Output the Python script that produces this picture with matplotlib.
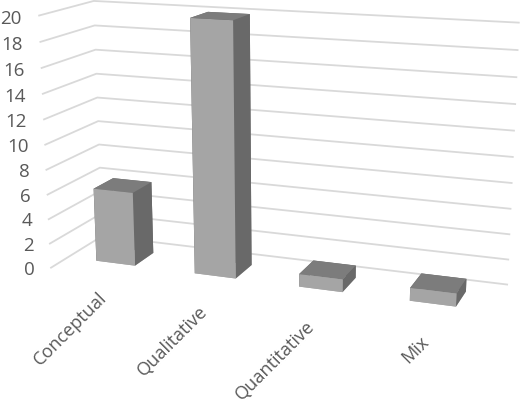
import numpy as np
import matplotlib
matplotlib.use('Agg')
import matplotlib.pyplot as plt
from mpl_toolkits.mplot3d import proj3d

categories = ['Conceptual', 'Qualitative', 'Quantitative', 'Mix']
values = [6, 20, 1, 1]
ticks = [0, 2, 4, 6, 8, 10, 12, 14, 16, 18, 20]

grey_text = '#595959'
front, top, side = '#a5a5a5', '#7c7c7c', '#696969'

fig = plt.figure(figsize=(5.2, 4), dpi=100)
ax = fig.add_axes([0.0099, -0.0497, 1.0080, 1.3105], projection='3d')
ax.set_xlim(0, 4, view_margin=0)
ax.set_ylim(0, 1, view_margin=0)
ax.set_zlim(0, 20, view_margin=0)

# camera fitted against the reference picture
ax.view_init(elev=14.29, azim=-69.41, roll=0.133)
ax.set_proj_type('persp', focal_length=0.4584)
ax.set_box_aspect((1, 0.2494, 0.5805))
ax.set_xticks([])
ax.set_yticks([])
ax.set_zticks([])
ax.set_axis_off()
ax.computed_zorder = False
ax.patch.set_alpha(0)

# Text3D ignores rotation, so project the anchors and place all labels in 2D
M = ax.get_proj()

# back wall and side wall gridlines
for v in ticks:
    ax.plot([0, 0, 4], [0, 1, 1], [v, v, v], color='#d9d9d9', lw=1.3, zorder=1)
    px, py, _ = proj3d.proj_transform(-0.175, 0, v - 0.35, M)
    ax.text2D(px, py, str(v), transform=ax.transData, ha='right', va='center',
              fontsize=13.5, color=grey_text, family='Open Sans')

bar_x, bar_w, bar_y, bar_d = 0.2983, 0.3994, 0.3161, 0.3864
for i, v in enumerate(values):
    ax.bar3d(i + bar_x, bar_y, 0, bar_w, bar_d, v, shade=False, zorder=2,
             color=[front, top, front, side, side, side])

for i, name in enumerate(categories):
    px, py, _ = proj3d.proj_transform(i + 0.47, 0, -1.25, M)
    ax.text2D(px, py, name, transform=ax.transData, rotation=45, ha='right', va='top',
              rotation_mode='anchor', fontsize=13.1, color=grey_text, family='Open Sans')

fig.savefig('out.png', dpi=100)
